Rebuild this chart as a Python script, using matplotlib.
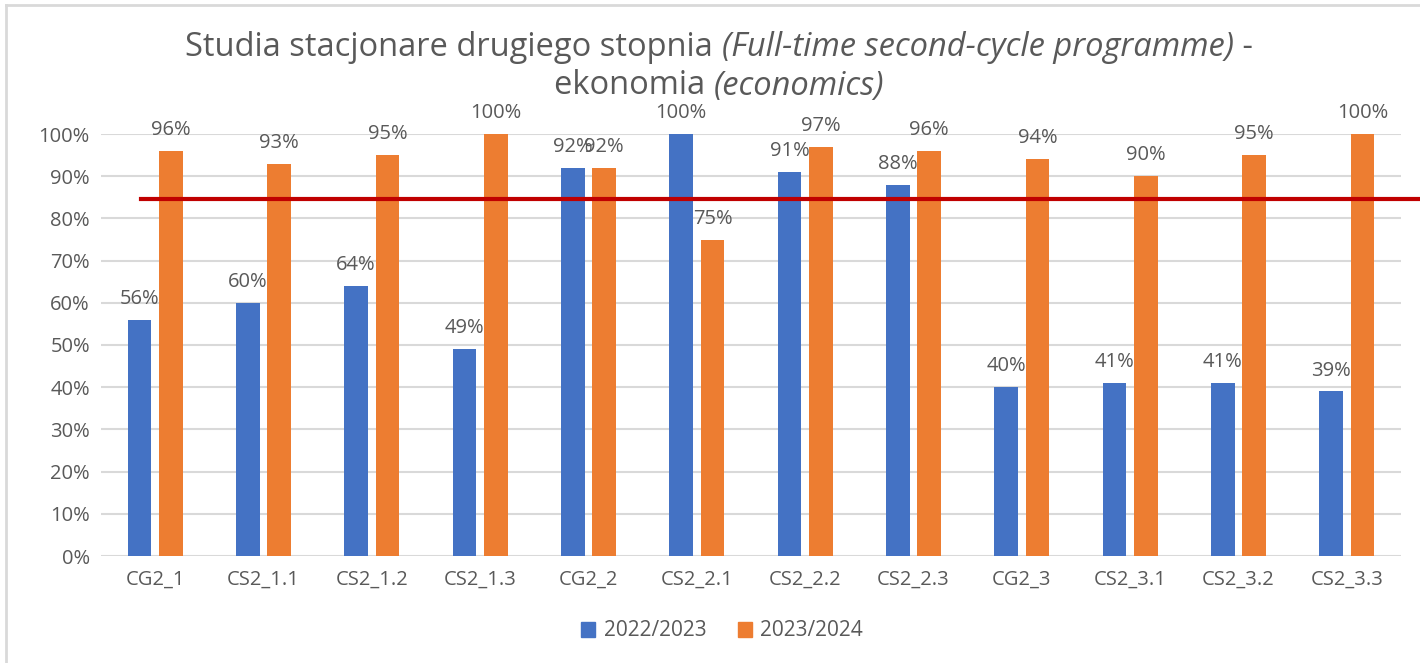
import matplotlib.pyplot as plt
from matplotlib.lines import Line2D
from matplotlib.patches import Patch
import numpy as np

categories = ['CG2_1', 'CS2_1.1', 'CS2_1.2', 'CS2_1.3', 'CG2_2', 'CS2_2.1',
              'CS2_2.2', 'CS2_2.3', 'CG2_3', 'CS2_3.1', 'CS2_3.2', 'CS2_3.3']
y2022 = [56, 60, 64, 49, 92, 100, 91, 88, 40, 41, 41, 39]
y2023 = [96, 93, 95, 100, 92, 75, 97, 96, 94, 90, 95, 100]
series_names = ['2022/2023', '2023/2024']
target = 84.5

BLUE = '#4472C4'
ORANGE = '#ED7D31'
GREY = '#595959'
GRID = '#D9D9D9'
RED = '#C00000'

plt.rcParams['font.family'] = ['Open Sans', 'DejaVu Sans']

W, H = 1420, 663
fig = plt.figure(figsize=(W / 100, H / 100), dpi=100)
ax = fig.add_axes([101 / W, 1 - 556 / H, 1300 / W, 422 / H])

x = np.arange(len(categories))
bw = 0.22
off = 0.145
ax.bar(x - off, y2022, bw, color=BLUE, zorder=3)
ax.bar(x + off, y2023, bw, color=ORANGE, zorder=3)

for xi, v in zip(x, y2022):
    ax.annotate(f'{v}%', (xi - off, v), xytext=(0, 15), textcoords='offset points',
                ha='center', va='center', fontsize=14.5, color=GREY)
for xi, v in zip(x, y2023):
    ax.annotate(f'{v}%', (xi + off, v), xytext=(0, 15), textcoords='offset points',
                ha='center', va='center', fontsize=14.5, color=GREY)

ax.set_xlim(-0.5, len(categories) - 0.5)
ax.set_ylim(0, 100)
ax.set_yticks(range(0, 101, 10))
ax.set_yticklabels([f'{t}%' for t in range(0, 101, 10)])
ax.set_xticks(x)
ax.set_xticklabels(categories)
ax.tick_params(length=0, labelsize=14.5, colors=GREY)
ax.tick_params(axis='x', pad=10)
ax.tick_params(axis='y', pad=8)
ax.grid(axis='y', color=GRID, linewidth=1.5, zorder=0)
for s in ax.spines.values():
    s.set_visible(False)

# red target line, runs past the plot area to the right edge
ax.add_line(Line2D([-0.13, 13.0], [target, target], color=RED, linewidth=3,
                   clip_on=False, zorder=5))

# chart border (top and left only visible)
fig.add_artist(Line2D([6 / W, 1], [1 - 5 / H, 1 - 5 / H], color=GRID, linewidth=2))
fig.add_artist(Line2D([6 / W, 6 / W], [0, 1 - 5 / H], color=GRID, linewidth=2))

# title with mixed upright / italic parts
lines = [
    [('Studia stacjonare drugiego stopnia ', 'normal'),
     ('(Full-time second-cycle programme)', 'italic'), (' -', 'normal')],
    [('ekonomia ', 'normal'), ('(economics)', 'italic')],
]
renderer = fig.canvas.get_renderer()
for parts, yc in zip(lines, [47, 86]):
    texts = []
    for s, style in parts:
        t = fig.text(0, 1 - yc / H, s, fontsize=23.5, style=style, color=GREY,
                     va='center', ha='left')
        texts.append(t)
    widths = [t.get_window_extent(renderer).width for t in texts]
    xpos = 719 - sum(widths) / 2
    for t, w in zip(texts, widths):
        t.set_x(xpos / W)
        xpos += w

handles = [Patch(color=BLUE), Patch(color=ORANGE)]
fig.legend(handles, series_names, loc='center', bbox_to_anchor=(722 / W, 1 - 631 / H),
           ncol=2, frameon=False, fontsize=15, labelcolor=GREY,
           handlelength=0.7, handleheight=0.7, handletextpad=0.4, columnspacing=1.5)

fig.savefig('out.png', dpi=100)
